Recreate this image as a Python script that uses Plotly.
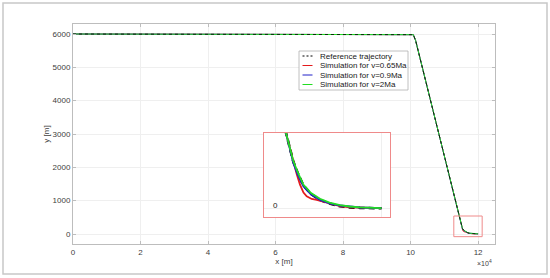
import plotly.graph_objects as go

# ---------------- data ----------------
x_common = [0, 100000, 100800, 101500, 114310]
y_common = [6000, 6000, 5980, 5800, 540]

ref_tail_x = [114500, 114744, 115000, 115340, 115800, 116333, 116900, 117524, 118100, 118714, 120000]
ref_tail_y = [448, 336, 256, 166, 104, 62, 36, 17, 9, 5, 2]

green_tail_x = [114500, 114744, 115000, 115340, 115800, 116333, 116900, 117524, 118100, 118714, 120000]
green_tail_y = [452, 340, 262, 172, 111, 70, 43, 25, 15, 9, 4]

blue_tail_x = [114500, 114744, 115000, 115340, 115800, 116333, 116900, 117524, 118714, 120000]
blue_tail_y = [440, 325, 245, 160, 100, 62, 38, 22, 8, 3]

red_tail_x = [114500, 114726, 114950, 115143, 115350, 115542, 115700, 115839, 116137, 116500, 116929, 117524, 118119, 120000]
red_tail_y = [448, 340, 245, 171, 115, 88, 75, 69, 63, 52, 40, 18, 9, 3]

names = ["Reference trajectory", "Simulation for v=0.65Ma",
         "Simulation for v=0.9Ma", "Simulation for v=2Ma"]
colors = ["#000000", "#e41a1c", "#2020c8", "#22dd22"]

x_ticks = [0, 20000, 40000, 60000, 80000, 100000, 120000]
x_ticktext = ["0", "2", "4", "6", "8", "10", "12"]
y_ticks = [0, 1000, 2000, 3000, 4000, 5000, 6000]

# inset window
zoom_x = [112800, 121200]
zoom_y = [-80, 540]
inset_xrange = [113000, 120500]
inset_yrange = [-60, 540]

# ---------------- layout helpers ----------------
W, H = 550, 278
L, R, T, B = 73, 495, 24, 244


def px(xp):
    return (xp - L) / (R - L)


def py(yp):
    return (B - yp) / (B - T)


series = [
    (x_common + ref_tail_x, y_common + ref_tail_y),
    (x_common + red_tail_x, y_common + red_tail_y),
    (x_common + blue_tail_x, y_common + blue_tail_y),
    (x_common + green_tail_x, y_common + green_tail_y),
]

fig = go.Figure()
# main axes: red, blue, green, then thin black dashed reference on top
for i in [1, 2, 3, 0]:
    xs, ys = series[i]
    fig.add_trace(go.Scatter(
        x=xs, y=ys, mode="lines", name=names[i], showlegend=False,
        line=dict(color=colors[i], width=0.8 if i == 0 else 1.0,
                  dash="3px,3px" if i == 0 else "solid"),
        xaxis="x", yaxis="y", hoverinfo="skip"))
# inset: reference underneath, then red, blue, green
for i in [0, 1, 2, 3]:
    xs, ys = series[i]
    fig.add_trace(go.Scatter(
        x=xs, y=ys, mode="lines", name=names[i], showlegend=False,
        line=dict(color=colors[i], width=2.6 if i == 0 else 1.8,
                  dash="6px,4px" if i == 0 else "solid"),
        xaxis="x2", yaxis="y2", hoverinfo="skip"))

font = dict(family="Liberation Sans, Arial, sans-serif", size=8, color="#404040")
axcol = "#bdbdbd"
gridcol = "#efefef"
red_box = "#ef8a8a"

fig.update_layout(
    width=W, height=H,
    margin=dict(l=L, r=W - R, t=T, b=H - B),
    paper_bgcolor="white", plot_bgcolor="white",
    font=font,
    xaxis=dict(range=[0, 125000], tickvals=x_ticks, ticktext=x_ticktext,
               showgrid=True, gridcolor=gridcol, zeroline=False,
               showline=True, linecolor=axcol, linewidth=1, mirror="ticks",
               ticks="inside", ticklen=3, tickcolor=axcol,
               title=dict(text="x [m]", font=font, standoff=2)),
    yaxis=dict(range=[-300, 6300], tickvals=y_ticks,
               showgrid=True, gridcolor=gridcol, zeroline=False,
               showline=True, linecolor=axcol, linewidth=1, mirror="ticks",
               ticks="inside", ticklen=3, tickcolor=axcol,
               title=dict(text="y [m]", font=font, standoff=1)),
    xaxis2=dict(domain=[px(264), px(390)], anchor="y2", range=inset_xrange,
                tickvals=[120000], showticklabels=False, ticks="",
                showgrid=True, gridcolor=gridcol, zeroline=False,
                showline=True, linecolor=red_box, linewidth=1, mirror=True),
    yaxis2=dict(domain=[py(217), py(133)], anchor="x2", range=inset_yrange,
                tickvals=[0], showticklabels=False, ticks="",
                showgrid=True, gridcolor=gridcol, zeroline=False,
                showline=True, linecolor=red_box, linewidth=1, mirror=True),
)

shapes = []
# white background for the inset (covers main grid)
shapes.append(dict(type="rect", xref="x2 domain", yref="y2 domain",
                   x0=0, x1=1, y0=0, y1=1, fillcolor="white",
                   line=dict(width=0), layer="below"))
# zoom rectangle in main axes
shapes.append(dict(type="rect", xref="x", yref="y",
                   x0=zoom_x[0], x1=zoom_x[1], y0=zoom_y[0], y1=zoom_y[1],
                   line=dict(color=red_box, width=1), layer="above"))
# outer image border
shapes.append(dict(type="rect", xref="paper", yref="paper",
                   x0=px(3), x1=px(547), y0=py(274), y1=py(3),
                   line=dict(color="#c8c8c8", width=1.5), layer="below"))
# custom legend box
shapes.append(dict(type="rect", xref="paper", yref="paper",
                   x0=px(299), x1=px(408), y0=py(90), y1=py(51),
                   fillcolor="white", line=dict(color="#b0b0b0", width=0.8),
                   layer="above"))
rows = [56, 65.5, 75, 84.5]
annotations = []
for k, i in enumerate([0, 1, 2, 3]):
    shapes.append(dict(type="line", xref="paper", yref="paper",
                       x0=px(302.5), x1=px(312.5), y0=py(rows[k]), y1=py(rows[k]),
                       line=dict(color=colors[i], width=1,
                                 dash="2px,2px" if i == 0 else "solid"),
                       layer="above"))
    annotations.append(dict(xref="paper", yref="paper", x=px(317.5), y=py(rows[k]),
                            text=names[i], showarrow=False, xanchor="left",
                            yanchor="middle",
                            font=dict(family=font["family"], size=8, color="#202020")))

# exponent label
annotations.append(dict(xref="paper", yref="paper", x=px(494), y=py(263),
                        text="×10<sup>4</sup>", showarrow=False, xanchor="right",
                        yanchor="middle",
                        font=dict(family=font["family"], size=7, color="#404040")))
# inset "0" label
annotations.append(dict(xref="x2 domain", yref="y2", x=0.09, y=0,
                        text="0", showarrow=False, xanchor="center", yanchor="middle",
                        yshift=3,
                        font=dict(family=font["family"], size=8, color="#202020")))

fig.update_layout(shapes=shapes, annotations=annotations)
fig.write_html("out.html")
